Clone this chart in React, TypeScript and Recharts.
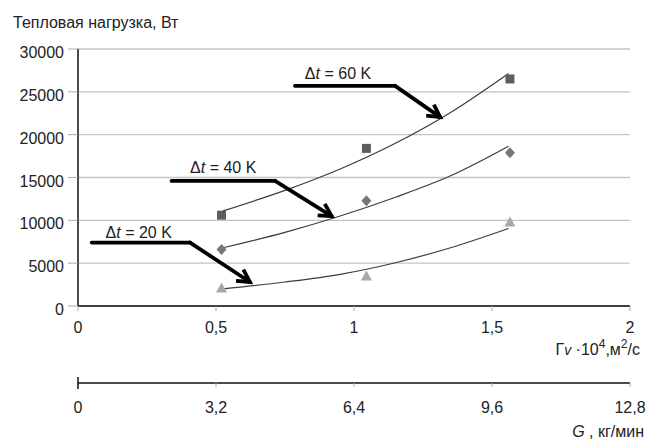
import React from 'react';
import {
  ComposedChart,
  XAxis,
  YAxis,
  CartesianGrid,
  Line,
  Scatter,
  ReferenceLine,
  ReferenceDot
} from 'recharts';

// measured points: Гv·10^4 vs heat load
const gammaV = [0.52, 1.045, 1.565];
const load60 = [10600, 18400, 26500];
const load40 = [6600, 12300, 17900];
const load20 = [2100, 3500, 9800];

// trend curves
const trendX = [0.525, 0.75, 0.95, 1.15, 1.35, 1.56];
const trend60 = [11100, 13500, 16000, 19000, 22600, 27150];
const trend40 = [6800, 8600, 10500, 12700, 15200, 18650];
const trend20 = [2000, 2800, 3700, 5050, 6800, 9050];

const xTicks = [0, 0.5, 1, 1.5, 2];
const gTicks = [0, 3.2, 6.4, 9.6, 12.8];
const yTicks = [0, 5000, 10000, 15000, 20000, 25000, 30000];

// annotation arrows (data coords)
const deltaT = [60, 40, 20];
const arrowPaths = [
  [[0.786, 25700], [1.149, 25700], [1.312, 22050]],
  [[0.339, 14600], [0.714, 14600], [0.919, 10500]],
  [[0.05, 7400], [0.406, 7400], [0.623, 2800]]
];
const labelAnchors = [[0.822, 26450], [0.406, 15550], [0.1, 7880]];

const toPts = (xs: number[], ys: number[]) => xs.map((x, i) => ({ x, y: ys[i] }));
const comma = (v: number) => String(v).replace('.', ',');

const FONT = "'Liberation Sans', Arial, sans-serif";
const TXT = '#222';

const YTick = ({ x, y, payload }: any) => (
  <text x={x} y={y + 9} textAnchor="end" fontSize={16} fontFamily={FONT} fill={TXT}>
    {payload.value}
  </text>
);

const XTick = ({ x, y, payload }: any) => (
  <text x={x} y={y + 22} textAnchor="middle" fontSize={16} fontFamily={FONT} fill={TXT}>
    {comma(payload.value)}
  </text>
);

const GTick = ({ x, y, payload }: any) => (
  <g>
    {payload.value === 0 && (
      <line x1={x} x2={x} y1={y - 10} y2={y + 2} stroke="#111" strokeWidth={1.5} />
    )}
    <text x={x} y={y + 26} textAnchor="middle" fontSize={16} fontFamily={FONT} fill={TXT}>
      {comma(payload.value)}
    </text>
  </g>
);

const Square = ({ cx, cy }: any) => (
  <rect x={cx - 4.5} y={cy - 4.5} width={9} height={9} fill="#5e5e5e" />
);
const Diamond = ({ cx, cy }: any) => (
  <path d={`M${cx},${cy - 5.5}L${cx + 5},${cy}L${cx},${cy + 5.5}L${cx - 5},${cy}Z`} fill="#767676" />
);
const Triangle = ({ cx, cy }: any) => (
  <path d={`M${cx},${cy - 5.5}L${cx + 5.5},${cy + 4.5}L${cx - 5.5},${cy + 4.5}Z`} fill="#a9a9a9" />
);
const NoMark = () => <g />;

const Seg = (p: any) => (
  <line x1={p.x1} y1={p.y1} x2={p.x2} y2={p.y2} stroke="#000" strokeWidth={3.8} strokeLinecap="round" />
);

const ArrowSeg = (p: any) => {
  const a = Math.atan2(p.y2 - p.y1, p.x2 - p.x1);
  const len = 14;
  const spread = 0.5;
  const ax = p.x2 - len * Math.cos(a - spread);
  const ay = p.y2 - len * Math.sin(a - spread);
  const bx = p.x2 - len * Math.cos(a + spread);
  const by = p.y2 - len * Math.sin(a + spread);
  return (
    <g>
      <line x1={p.x1} y1={p.y1} x2={p.x2} y2={p.y2} stroke="#000" strokeWidth={3.8} strokeLinecap="round" />
      <path d={`M${ax},${ay}L${p.x2},${p.y2}L${bx},${by}`} fill="none" stroke="#000" strokeWidth={3.8} strokeLinejoin="miter" />
    </g>
  );
};

export default function App() {
  return (
    <div style={{ position: 'absolute', left: 0, top: 0, background: '#fff' }}>
      <ComposedChart width={646} height={440} margin={{ top: 49, right: 16, bottom: 0, left: 0 }}>
        <CartesianGrid vertical={false} stroke="#c4c4c4" strokeWidth={1.3} />
        <XAxis
          dataKey="x"
          type="number"
          domain={[0, 2]}
          ticks={xTicks}
          height={77}
          axisLine={{ stroke: '#111', strokeWidth: 1.5 }}
          tickLine={{ stroke: '#aaa' }}
          tickSize={5}
          tickMargin={0}
          tick={XTick}
          label={(p: any) => {
            const vb = p.viewBox;
            return (
              <text x={vb.x + vb.width + 10} y={vb.y + 49} textAnchor="end" fontSize={16} fontFamily={FONT} fill={TXT}>
                Г<tspan fontStyle="italic" fontSize={14}>v</tspan> ·10
                <tspan dy={-7} fontSize={12}>4</tspan>
                <tspan dy={7}>,м</tspan>
                <tspan dy={-7} fontSize={12}>2</tspan>
                <tspan dy={7}>/с</tspan>
              </text>
            );
          }}
        />
        <XAxis
          xAxisId="g"
          dataKey="x"
          type="number"
          domain={[0, 12.8]}
          allowDataOverflow
          ticks={gTicks}
          height={57}
          axisLine={{ stroke: '#111', strokeWidth: 1.5 }}
          tickLine={{ stroke: '#aaa' }}
          tickSize={4}
          tickMargin={0}
          tick={GTick}
          label={(p: any) => {
            const vb = p.viewBox;
            return (
              <text x={vb.x + vb.width + 14} y={vb.y + 54} textAnchor="end" fontSize={16} fontFamily={FONT} fill={TXT}>
                <tspan fontStyle="italic">G</tspan> , кг/мин
              </text>
            );
          }}
        />
        <YAxis
          dataKey="y"
          type="number"
          domain={[0, 30000]}
          ticks={yTicks}
          width={78}
          axisLine={{ stroke: '#111', strokeWidth: 1.5 }}
          tickLine={{ stroke: '#aaa' }}
          tickSize={10}
          tickMargin={4}
          tick={YTick}
          label={(p: any) => {
            const vb = p.viewBox;
            return (
              <text x={vb.x + 13} y={vb.y - 21} fontSize={16} fontFamily={FONT} fill={TXT}>
                Тепловая нагрузка, Вт
              </text>
            );
          }}
        />

        {/* invisible carrier so the flow-rate axis gets its ticks */}
        <Scatter
          xAxisId="g"
          data={gTicks.map((g) => ({ x: g, y: 0 }))}
          dataKey="y"
          shape={NoMark}
          isAnimationActive={false}
        />

        <Scatter data={toPts(gammaV, load60)} dataKey="y" shape={Square} isAnimationActive={false} />
        <Scatter data={toPts(gammaV, load40)} dataKey="y" shape={Diamond} isAnimationActive={false} />
        <Scatter data={toPts(gammaV, load20)} dataKey="y" shape={Triangle} isAnimationActive={false} />

        <Line data={toPts(trendX, trend60)} dataKey="y" type="monotone" stroke="#3c3c3c" strokeWidth={1.2} dot={false} activeDot={false} isAnimationActive={false} />
        <Line data={toPts(trendX, trend40)} dataKey="y" type="monotone" stroke="#3c3c3c" strokeWidth={1.2} dot={false} activeDot={false} isAnimationActive={false} />
        <Line data={toPts(trendX, trend20)} dataKey="y" type="monotone" stroke="#3c3c3c" strokeWidth={1.2} dot={false} activeDot={false} isAnimationActive={false} />

        {arrowPaths.map((pts, i) =>
          pts.slice(1).map((pt, j) => (
            <ReferenceLine
              key={`arrow-${i}-${j}`}
              segment={[{ x: pts[j][0], y: pts[j][1] }, { x: pt[0], y: pt[1] }]}
              shape={j === pts.length - 2 ? ArrowSeg : Seg}
            />
          ))
        )}
        {labelAnchors.map((a, i) => (
          <ReferenceDot
            key={`lbl-${i}`}
            x={a[0]}
            y={a[1]}
            r={0}
            shape={(p: any) => (
              <text x={p.cx} y={p.cy} fontSize={16} fontFamily={FONT} fill={TXT}>
                Δ<tspan fontStyle="italic">t</tspan> = {deltaT[i]} K
              </text>
            )}
          />
        ))}
      </ComposedChart>
    </div>
  );
}
